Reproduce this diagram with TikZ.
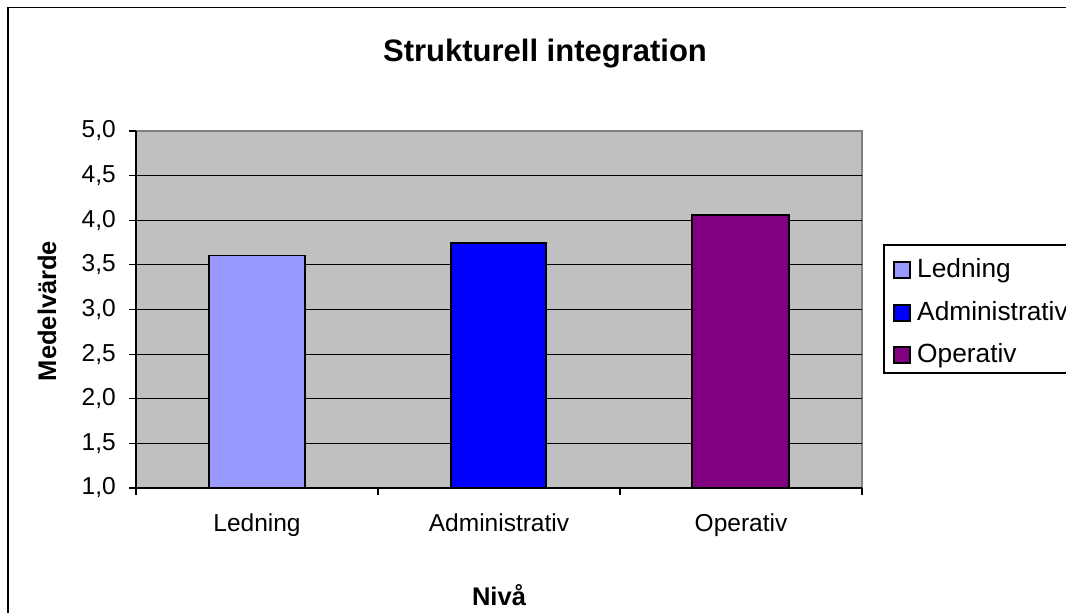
\documentclass[tikz,border=0pt]{standalone}
\usepackage{fontspec}
\setmainfont{Liberation Sans}
\definecolor{plotbg}{HTML}{C0C0C0}
\definecolor{ledcol}{HTML}{9999FF}
\definecolor{admcol}{HTML}{0000FF}
\definecolor{opcol}{HTML}{800080}
\definecolor{framegray}{HTML}{808080}
\tikzset{
  lbl/.style={font=\fontsize{24.5}{28}\selectfont, inner sep=0pt},
  keylbl/.style={font=\fontsize{26.3}{30}\selectfont, inner sep=0pt},
  axlbl/.style={font=\fontsize{25.5}{29}\selectfont\bfseries, inner sep=0pt},
  barbox/.style={draw=black, line width=1.6pt},
  keybox/.style={draw=black, line width=1.2pt, minimum size=16pt, inner sep=0pt},
  grid line/.style={draw=black, line width=1.2pt},
}
\begin{document}
\begin{tikzpicture}[x=1pt, y=-1pt]
  \useasboundingbox (0,0) rectangle (1066,613);
  \clip (0,0) rectangle (1066,613);
  \fill[white] (0,0) rectangle (1066,613);
  % outer chart frame (runs past the right and lower edges)
  \draw[line width=1.4pt] (8,625) -- (8,7.5) -- (1080,7.5);
  % title
  \node[font=\fontsize{31}{36}\selectfont\bfseries, inner sep=0pt, anchor=base] (title) at (545,61) {Strukturell integration};
  % plot area
  \fill[plotbg] (136,131) rectangle (862,488);
  \draw[framegray, line width=1.2pt] (136,131) -- (862,131) -- (862,488);
  \foreach \yy in {443.375, 398.75, 354.125, 309.5, 264.875, 220.25, 175.625}
    \draw[grid line] (136,\yy) -- (862,\yy);
  % bars
  \draw[barbox, fill=ledcol] (209,488) rectangle (305,255.5);
  \draw[barbox, fill=admcol] (451,488) rectangle (546,243);
  \draw[barbox, fill=opcol] (692,488) rectangle (789,215);
  % axes
  \draw[line width=1.2pt] (136,131) -- (136,495);
  \draw[line width=1.2pt] (129,488) -- (862,488);
  \foreach \xx in {378,620,862}
    \draw[line width=1.2pt] (\xx,488) -- (\xx,495);
  % y ticks and labels
  \foreach \lab/\yy [count=\i] in {{1,0}/488, {1,5}/443.375, {2,0}/398.75, {2,5}/354.125, {3,0}/309.5, {3,5}/264.875, {4,0}/220.25, {4,5}/175.625, {5,0}/131} {
    \draw[line width=1.2pt] (129,\yy) -- (136,\yy);
    \node[lbl, anchor=east] (yt\i) at (116,\yy) {\lab};
  }
  % category labels
  \node[lbl, anchor=base] (catA) at (257,531) {Ledning};
  \node[lbl, anchor=base] (catB) at (499,531) {Administrativ};
  \node[lbl, anchor=base] (catC) at (741,531) {Operativ};
  % axis titles
  \node[axlbl, rotate=90] (ytitle) at (47,311) {Medelvärde};
  \node[axlbl, anchor=base] (xtitle) at (499,605) {Nivå};
  % legend (its right side lies past the edge)
  \draw[line width=1.2pt, fill=white] (1080,245) -- (884,245) -- (884,373) -- (1080,373);
  \node[keybox, fill=ledcol] (k1) at (902,270) {};
  \node[keybox, fill=admcol] (k2) at (902,313) {};
  \node[keybox, fill=opcol] (k3) at (902,355) {};
  \node[keylbl, anchor=base west] (t1) at (917,277) {Ledning};
  \node[keylbl, anchor=base west] (t2) at (917,320) {Administrativ};
  \node[keylbl, anchor=base west] (t3) at (917,362) {Operativ};
\end{tikzpicture}
\end{document}
